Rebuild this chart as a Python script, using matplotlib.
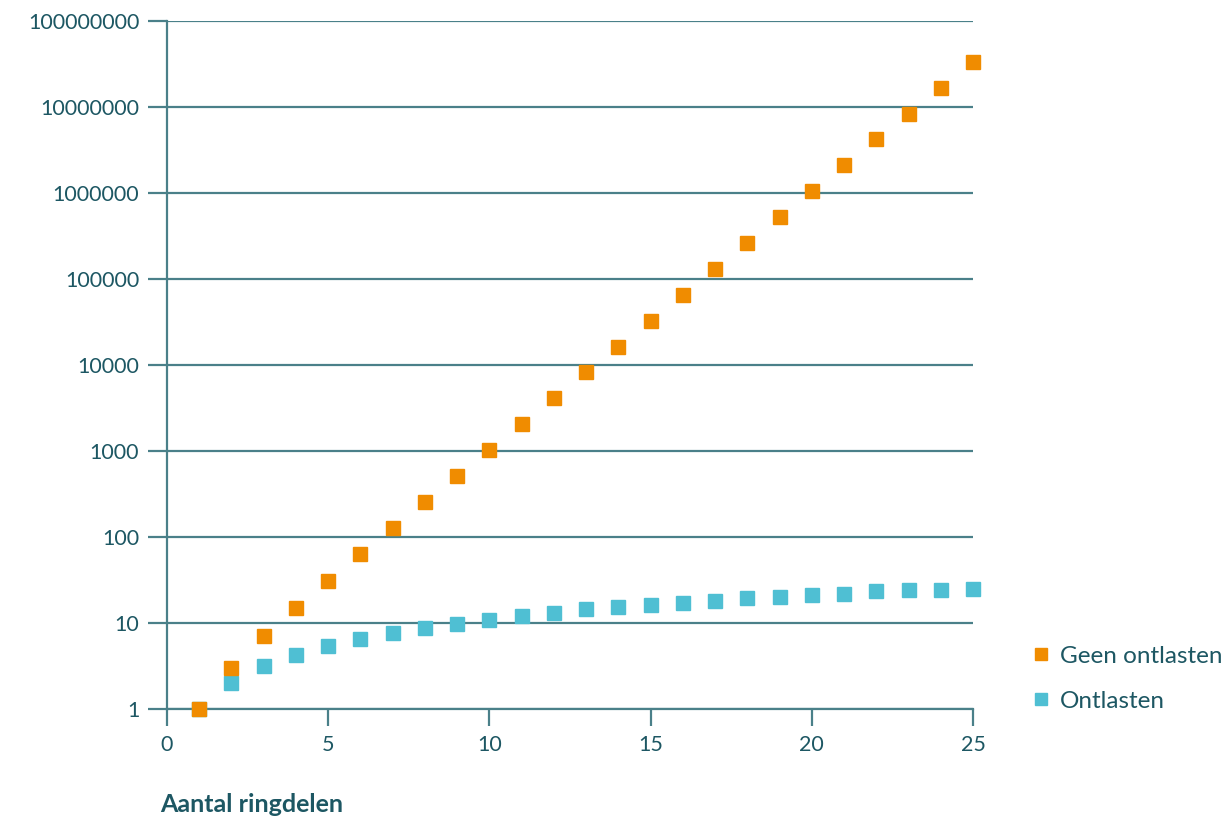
import matplotlib.pyplot as plt
from matplotlib.ticker import NullLocator

plt.rcParams['font.family'] = ['Lato', 'DejaVu Sans']

ringdelen = list(range(1, 26))
geen_ontlasten = [1, 3, 7, 15, 31, 63, 127, 255, 511, 1023, 2047, 4095, 8191,
                  16383, 32767, 65535, 131071, 262143, 524287, 1048575,
                  2097151, 4194303, 8388607, 16777215, 33554431]
ontlasten = [1, 2, 3.2, 4.3, 5.4, 6.6, 7.7, 8.8, 9.7, 10.8, 12, 13.2, 14.4,
             15.5, 16.3, 17, 17.9, 19.3, 20.3, 21, 22, 23.3, 24, 24.2, 24.8]

y_ticks = [1, 10, 100, 1000, 10000, 100000, 1000000, 10000000, 100000000]
x_ticks = [0, 5, 10, 15, 20, 25]

kleur_tekst = '#1d5763'
kleur_lijn = '#4a8089'
oranje = '#f08c00'
blauw = '#4fbfd3'

fig = plt.figure(figsize=(12.25, 8.19), dpi=100)
ax = fig.add_axes([0.1363, 0.1343, 0.658, 0.8401])

ax.plot(ringdelen, ontlasten, 's', color=blauw, markersize=10,
        label='Ontlasten', clip_on=False, zorder=3)
ax.plot(ringdelen, geen_ontlasten, 's', color=oranje, markersize=10,
        label='Geen ontlasten', clip_on=False, zorder=4)

ax.set_yscale('log')
ax.set_ylim(1, 100000000)
ax.set_xlim(0, 25)
ax.set_yticks(y_ticks)
ax.set_yticklabels([str(v) for v in y_ticks])
ax.yaxis.set_minor_locator(NullLocator())
ax.set_xticks(x_ticks)

ax.grid(axis='y', color=kleur_lijn, linewidth=1.6)
ax.set_axisbelow(True)
for s in ['top', 'right']:
    ax.spines[s].set_visible(False)
for s in ['left', 'bottom']:
    ax.spines[s].set_color(kleur_lijn)
    ax.spines[s].set_linewidth(1.6)

ax.tick_params(axis='y', length=14, width=1.6, color=kleur_lijn,
               labelcolor=kleur_tekst, labelsize=15.5, pad=6)
ax.tick_params(axis='x', length=12, width=1.6, color=kleur_lijn,
               labelcolor=kleur_tekst, labelsize=15.5, pad=7)

handles, labels = ax.get_legend_handles_labels()
leg = ax.legend(handles[::-1], labels[::-1], loc='center left',
                bbox_to_anchor=(1.05, 0.044), frameon=False, fontsize=17.5,
                handlelength=0.5, handletextpad=0.5, labelspacing=1.0,
                markerscale=0.8)
for t in leg.get_texts():
    t.set_color(kleur_tekst)

fig.text(0.131, 0.008, 'Aantal ringdelen', color=kleur_tekst, fontsize=18,
         fontweight='bold')

fig.savefig('out.png', dpi=100)
